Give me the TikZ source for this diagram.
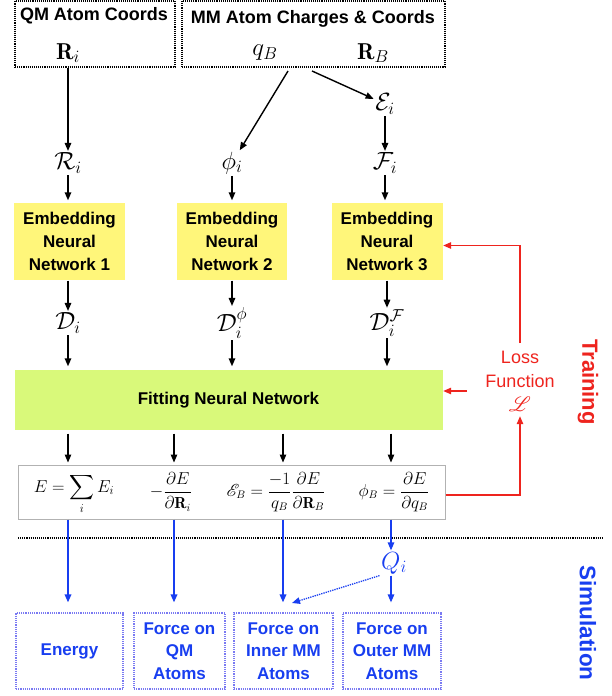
\documentclass[tikz,border=0pt]{standalone}
\usepackage{fontspec}
\setsansfont{Liberation Sans}
\usepackage{amsmath,mathrsfs}
\usetikzlibrary{arrows.meta,positioning}
\definecolor{enyellow}{RGB}{255,246,122}
\definecolor{fitgreen}{RGB}{217,249,122}
\definecolor{trainred}{RGB}{238,36,30}
\definecolor{simblue}{RGB}{24,62,240}
\definecolor{boxblue}{RGB}{122,122,242}
\tikzset{
  inbox/.style={draw,densely dotted,line width=1.1pt,inner sep=0pt},
  boxtitle/.style={font=\sffamily\bfseries\fontsize{18}{20}\selectfont,inner sep=1pt},
  embnet/.style={fill=enyellow,minimum width=111pt,minimum height=77pt,align=center,
    font=\sffamily\bfseries\fontsize{17}{23}\selectfont},
  feat/.style={font=\fontsize{24}{26}\selectfont,inner sep=1pt},
  inmath/.style={font=\fontsize{23}{25}\selectfont,inner sep=1pt},
  formula/.style={font=\fontsize{16}{18}\selectfont,inner sep=0pt},
  simbox/.style={draw=boxblue,densely dotted,line width=1.2pt,minimum height=76pt,
    align=center,text=simblue,font=\sffamily\bfseries\fontsize{17}{22.5}\selectfont},
  redline/.style={trainred,line width=1.3pt},
  blueline/.style={simblue,line width=1.7pt}
}
\begin{document}
\begin{tikzpicture}[x=1pt,y=-1pt,>={Triangle[length=8pt,width=6.5pt]},line width=1.4pt]
\useasboundingbox (0,0) rectangle (611,696);

% inputs
\node[inbox,minimum width=160pt,minimum height=66pt] (qmbox) at (95,34) {};
\node[inbox,minimum width=263pt,minimum height=66pt] (mmbox) at (313.5,34) {};
\node[boxtitle] (qmtitle) at (94,16) {QM Atom Coords};
\node[boxtitle] (mmtitle) at (313,19) {MM Atom Charges \& Coords};
\node[inmath] (Rvec) at (68,53) {$\mathbf{R}_i$};
\node[inmath,font=\fontsize{25}{27}\selectfont] (qB) at (265,53) {$q_B$};
\node[inmath] (RB) at (373,53) {$\mathbf{R}_B$};
\coordinate (qBl) at (288,71);
\coordinate (qBr) at (312,71);

% features
\node[feat] (Ri) at (68,163) {$\mathcal{R}_i$};
\node[feat] (phii) at (232,163) {$\phi_i$};
\node[feat] (Ei) at (385,104) {$\mathcal{E}_i$};
\node[feat] (Fi) at (385,163) {$\mathcal{F}_i$};

\draw[->] (Rvec |- qmbox.south) -- (Ri);
\draw[->] (qBl) -- (phii);
\draw[->] (qBr) -- (Ei);
\draw[->] (Ei) -- (Fi);

% embedding nets
\node[embnet] (en1) at (69.5,241.5) {Embedding\\Neural\\Network 1};
\node[embnet,minimum width=110pt] (en2) at (232,241.5) {Embedding\\Neural\\Network 2};
\node[embnet] (en3) at (387,241.5) {Embedding\\Neural\\Network 3};
\draw[->,shorten >=2pt] (Ri) -- (Ri |- en1.north);
\draw[->,shorten >=2pt] (phii) -- (phii |- en2.north);
\draw[->,shorten >=2pt] (Fi) -- (Fi |- en3.north);

\node[feat] (Di) at (68,323) {$\mathcal{D}_i$};
\node[feat] (Dphi) at (232,323) {$\mathcal{D}_i^{\phi}$};
\node[feat] (DF) at (387,323) {$\mathcal{D}_i^{\mathcal{F}}$};
\draw[->] (Di |- en1.south) -- (Di);
\draw[->] (Dphi |- en2.south) -- (Dphi);
\draw[->] (DF |- en3.south) -- (DF);

% fitting net
\node[fill=fitgreen,minimum width=428pt,minimum height=60pt,
  font=\sffamily\bfseries\fontsize{17}{20}\selectfont] (fit) at (228.5,400) {Fitting Neural Network};
\draw[->,shorten >=3pt] (Di) -- (Di |- fit.north);
\draw[->,shorten >=3pt] (Dphi) -- (Dphi |- fit.north);
\draw[->,shorten >=3pt] (DF) -- (DF |- fit.north);

% outputs
\node[draw=black!30,line width=1pt,minimum width=427pt,minimum height=54pt] (out) at (231.5,492) {};
\node[formula,font=\fontsize{17}{19}\selectfont] (f1) at (74,494) {$\displaystyle E=\sum_i E_i$};
\node[formula] (f2) at (171,492) {$\displaystyle -\frac{\partial E}{\partial \mathbf{R}_i}$};
\node[formula] (f3) at (276,492) {$\displaystyle \mathscr{E}_B=\frac{-1}{q_B}\frac{\partial E}{\partial \mathbf{R}_B}$};
\node[formula] (f4) at (394,492) {$\displaystyle \phi_B=\frac{\partial E}{\partial q_B}$};
\foreach \cx [count=\k] in {68,174,283,391}
  \coordinate (col\k) at (\cx,0);
\foreach \k in {1,...,4}
  \draw[->,line width=1.2pt,shorten <=3pt,shorten >=2pt] (col\k |- fit.south) -- (col\k |- out.north);

% training
\node[text=trainred,align=center,font=\sffamily\fontsize{18}{24}\selectfont] (loss) at (520,381)
  {Loss\\Function\\{\fontsize{22}{24}\selectfont$\mathscr{L}$}};
\node[text=trainred,rotate=-90,font=\sffamily\bfseries\fontsize{22}{24}\selectfont] (train) at (588,382) {Training};
\coordinate (lossTop) at (520,343);
\coordinate (lossW) at (467,391);
\draw[redline,->] (lossTop) |- ([yshift=-4pt]en3.east);
\draw[redline,->] (lossW) -- (lossW -| fit.east);
\draw[redline,->,shorten >=1pt] ([yshift=-3pt]out.east) -| (loss.south);

% simulation
\coordinate (sepL) at (18,538);
\coordinate (sepR) at (602,538);
\draw[densely dotted,line width=1.1pt] (sepL) -- (sepR);
\node[rotate=-90,text=simblue,font=\sffamily\bfseries\fontsize{22.5}{24}\selectfont] (sim) at (588,623) {Simulation};

\node[simbox,minimum width=107pt] (b1) at (69.5,651) {Energy};
\node[simbox,minimum width=91pt] (b2) at (179.5,651) {Force on\\QM\\Atoms};
\node[simbox,minimum width=99pt] (b3) at (283.5,651) {Force on\\Inner MM\\Atoms};
\node[simbox,minimum width=98pt] (b4) at (392,651) {Force on\\Outer MM\\Atoms};
\node[text=simblue,font=\fontsize{24}{26}\selectfont,inner sep=1pt] (Qi) at (394,563) {$Q_i$};

\draw[blueline,->,shorten >=10pt] (col1 |- out.south) -- (col1 |- b1.north);
\draw[blueline,->,shorten >=10pt] (col2 |- out.south) -- (col2 |- b2.north);
\draw[blueline,->,shorten >=10pt] (col3 |- out.south) -- (col3 |- b3.north);
\draw[simblue,line width=1.3pt,->] (col4 |- out.south) -- (col4 |- Qi.north);
\draw[simblue,line width=1.3pt,->,shorten >=10pt] (col4 |- Qi.south) -- (col4 |- b4.north);
\coordinate (b3in) at (292,603);
\draw[simblue,densely dotted,line width=1.3pt,->] (Qi.south west) -- (b3in);
\end{tikzpicture}
\end{document}
